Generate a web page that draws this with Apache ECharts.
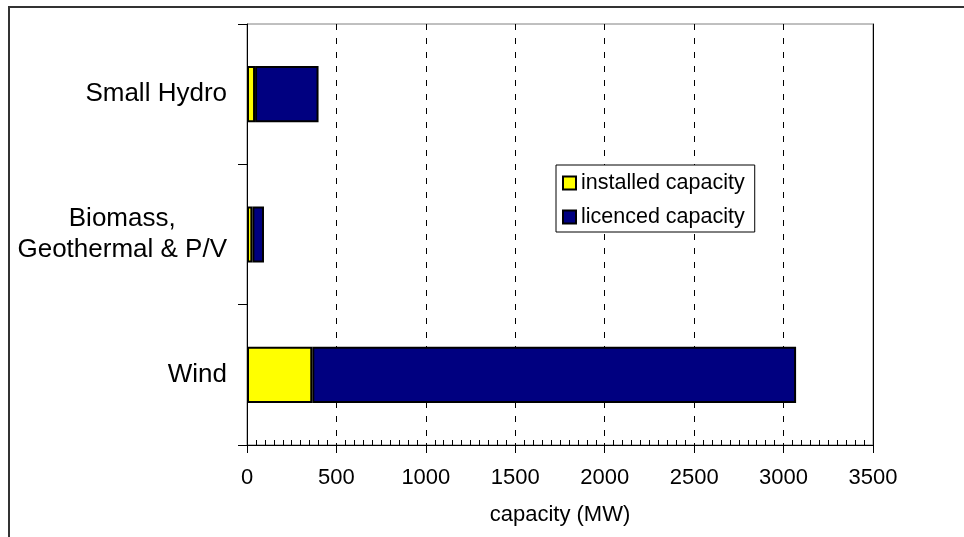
<!DOCTYPE html>
<html>
<head>
<meta charset="utf-8">
<title>Renewable capacity</title>
<script src="https://cdn.jsdelivr.net/npm/echarts@6/dist/echarts.min.js"></script>
<style>
  html, body { margin: 0; padding: 0; background: #fff; }
  #chart { width: 964px; height: 537px; }
</style>
</head>
<body>
<div id="chart"></div>
<script>
// Technologies, bottom to top
const categories = ['Wind', 'Biomass,\nGeothermal & P/V', 'Small Hydro'];
// Installed capacity (MW)
const installed = [365, 30, 45];
// Additional licenced capacity stacked on top of installed (MW)
const licenced = [2705, 65, 355];
// Value axis ticks
const xTicks = { min: 0, max: 3500, interval: 500 };

const FONT = '"Liberation Sans", Arial, sans-serif';

const chart = echarts.init(document.getElementById('chart'), null, { renderer: 'canvas' });

chart.setOption({
  animation: false,
  backgroundColor: '#fff',
  textStyle: { fontFamily: FONT, color: '#000' },
  graphic: [{
    type: 'rect',
    shape: { x: 9, y: 7, width: 1000, height: 1000 },
    style: { fill: null, stroke: '#333', lineWidth: 2 },
    silent: true
  }],
  grid: {
    left: 247, right: 91, top: 24, bottom: 92,
    show: true, borderColor: '#808080', borderWidth: 1
  },
  legend: {
    orient: 'vertical',
    left: 556, top: 165,
    padding: [7, 10, 4, 6],
    itemGap: 12,
    itemWidth: 13, itemHeight: 13,
    icon: 'rect',
    backgroundColor: '#fff',
    borderColor: '#000', borderWidth: 1,
    textStyle: { fontFamily: FONT, fontSize: 21.5, color: '#000' },
    data: ['installed capacity', 'licenced capacity']
  },
  xAxis: [{
    type: 'value',
    min: xTicks.min, max: xTicks.max, interval: xTicks.interval,
    name: 'capacity (MW)',
    nameLocation: 'middle',
    nameGap: 59,
    nameTextStyle: { fontFamily: FONT, fontSize: 22, color: '#000' },
    axisLine: { show: true, lineStyle: { color: '#000', width: 1 } },
    axisTick: { show: true, inside: true, length: 2, lineStyle: { color: '#000' } },
    minorTick: { show: true, splitNumber: 10, length: 5, lineStyle: { color: '#000' } },
    axisLabel: {
      margin: 22, fontFamily: FONT, fontSize: 22, color: '#000',
      formatter: v => String(v)
    },
    splitLine: { show: true, showMaxLine: false, lineStyle: { color: '#000', width: 1, type: [6, 8] } }
  }, {
    type: 'value',
    position: 'bottom',
    min: xTicks.min, max: xTicks.max, interval: xTicks.interval,
    axisLine: { show: false },
    axisTick: { show: true, inside: false, length: 8, lineStyle: { color: '#000' } },
    axisLabel: { show: false },
    splitLine: { show: false }
  }],
  yAxis: [{
    type: 'category',
    data: categories,
    axisLine: { show: true, lineStyle: { color: '#000', width: 1 } },
    axisTick: { show: true, length: 9, lineStyle: { color: '#000' } },
    axisLabel: {
      margin: 20,
      formatter: v => v.split('\n').map(s => '{c|' + s + '}').join('\n'),
      rich: { c: { align: 'center', fontFamily: FONT, fontSize: 26, lineHeight: 31, color: '#000' } }
    }
  }, {
    type: 'category',
    data: categories,
    position: 'right',
    axisLine: { show: true, onZero: false, lineStyle: { color: '#000', width: 1 } },
    axisTick: { show: false },
    axisLabel: { show: false },
    splitLine: { show: false }
  }],
  series: [{
    name: 'installed capacity',
    type: 'bar',
    stack: 'cap',
    barWidth: '40%',
    data: installed,
    itemStyle: { color: '#FFFF00', borderColor: '#000', borderWidth: 2 }
  }, {
    name: 'licenced capacity',
    type: 'bar',
    stack: 'cap',
    data: licenced,
    itemStyle: { color: '#000080', borderColor: '#000', borderWidth: 2 }
  }]
});
</script>
</body>
</html>
